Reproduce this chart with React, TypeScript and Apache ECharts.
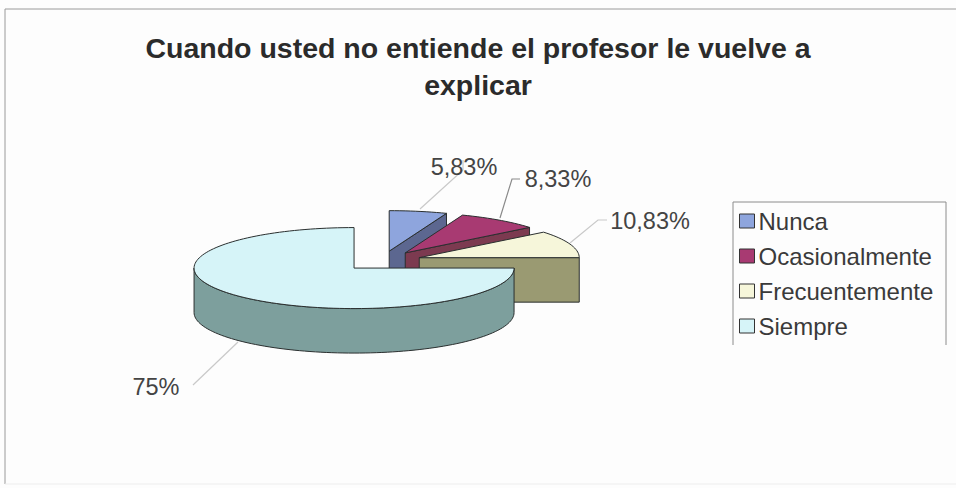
import React, { useEffect, useRef } from "react";
import * as echarts from "echarts";

const categories = ["Nunca", "Ocasionalmente", "Frecuentemente", "Siempre"];
const percentages = [5.83, 8.33, 10.83, 75];
const topColors = ["#8ea5dd", "#a83a72", "#f6f6da", "#d6f4f8"];
const sideColors = ["#5c6790", "#7c3a50", "#9a9a72", "#7d9f9d"];
const labelAnchors = [[464, 167], [558, 179], [650, 221], [156, 387]];
const leaderLines = [
  [[463, 160], [463, 170], [420, 209]],
  [[520, 179], [512, 179], [500, 218]],
  [[607, 220], [598, 220], [570, 243]],
  [[193, 385], [238, 342]],
];

// Projected pie: tilted ellipse, slices pushed out along their middle angle.
const CX = 382;
const CY = 261;
const RX = 160;
const RY = 40.5;
const DEPTH = 44.5;
const EXPLODE = 0.247;
const EDGE = "#2a2f2f";
const FONT = '"Liberation Sans", Arial, sans-serif';
const TOTAL = percentages.reduce((a, b) => a + b, 0);

const rim = (ox: number, oy: number, deg: number, dy = 0) => {
  const a = (deg * Math.PI) / 180;
  return [ox + RX * Math.sin(a), oy - RY * Math.cos(a) + dy];
};

const arcPoints = (ox: number, oy: number, from: number, to: number, dy = 0) => {
  const pts: number[][] = [];
  const steps = Math.max(2, Math.ceil(Math.abs(to - from) / 2));
  for (let i = 0; i <= steps; i++) pts.push(rim(ox, oy, from + ((to - from) * i) / steps, dy));
  return pts;
};

const makeRenderItem = (index: number) => (_params: any, api: any) => {
  const value = api.value(0);
  const before = percentages.slice(0, index).reduce((a, b) => a + b, 0);
  const start = (before / TOTAL) * 360;
  const end = start + (value / TOTAL) * 360;
  const mid = ((start + end) / 2) * (Math.PI / 180);
  const ox = CX + EXPLODE * RX * Math.sin(mid);
  const oy = CY - EXPLODE * RY * Math.cos(mid);
  const faceStyle = { fill: sideColors[index], stroke: EDGE, lineWidth: 1 };
  const children: any[] = [];

  // Cut face on the clockwise end of the slice, when it faces the viewer.
  if (end <= 180) {
    const r0 = rim(ox, oy, end);
    children.push({
      type: "polygon",
      shape: { points: [[ox, oy], r0, [r0[0], r0[1] + DEPTH], [ox, oy + DEPTH]] },
      style: faceStyle,
    });
  }
  // Outer wall, only where the rim is on the near half of the ellipse.
  const wallFrom = Math.max(start, 90);
  const wallTo = Math.min(end, 270);
  if (wallTo > wallFrom) {
    const upper = arcPoints(ox, oy, wallFrom, wallTo);
    const lower = arcPoints(ox, oy, wallFrom, wallTo, DEPTH).reverse();
    children.push({
      type: "polygon",
      shape: { points: [...upper, ...lower] },
      style: faceStyle,
    });
  }
  // Top face.
  children.push({
    type: "polygon",
    shape: { points: [[ox, oy], ...arcPoints(ox, oy, start, end)] },
    style: { fill: topColors[index], stroke: EDGE, lineWidth: 1 },
  });
  // Leader line and value label.
  children.push({
    type: "polyline",
    shape: { points: leaderLines[index] },
    style: { fill: "none", stroke: index === 1 ? "#8a8a8a" : "#c9c9c9", lineWidth: 1.2 },
  });
  children.push({
    type: "text",
    x: labelAnchors[index][0],
    y: labelAnchors[index][1],
    style: {
      text: `${String(value).replace(".", ",")}%`,
      fill: "#444",
      font: `23.5px ${FONT}`,
      align: "center",
      verticalAlign: "middle",
    },
  });
  return { type: "group", children };
};

export default function App() {
  const ref = useRef<HTMLDivElement>(null);
  useEffect(() => {
    const chart = echarts.init(ref.current!, null, { renderer: "svg" });
    chart.setOption({
      animation: false,
      backgroundColor: "#fdfdfd",
      title: {
        text: "Cuando usted no entiende el profesor le vuelve a\nexplicar",
        left: 478,
        top: 29,
        padding: 0,
        textAlign: "center",
        textStyle: {
          fontFamily: FONT,
          fontSize: 28.5,
          fontWeight: "bold",
          color: "#2b2b2b",
          lineHeight: 37,
        },
      },
      legend: {
        orient: "vertical",
        left: 739,
        top: 209,
        itemWidth: 15,
        itemHeight: 14,
        itemGap: 11,
        icon: "rect",
        padding: 0,
        data: categories,
        itemStyle: { borderColor: "#333", borderWidth: 1 },
        textStyle: {
          fontFamily: FONT,
          fontSize: 24,
          color: "#3a3a3a",
          padding: [0, 0, 0, -1],
        },
      },
      graphic: [
        {
          type: "polyline",
          silent: true,
          shape: { points: [[5, 484], [5, 9], [956, 9]] },
          style: { fill: "none", stroke: "#9a9a9a", lineWidth: 1 },
        },
        {
          type: "line",
          silent: true,
          shape: { x1: 5, y1: 484, x2: 956, y2: 484 },
          style: { stroke: "#ededed", lineWidth: 1 },
        },
        {
          type: "polyline",
          silent: true,
          shape: { points: [[733, 345], [733, 202], [946, 202], [946, 345]] },
          style: { fill: "none", stroke: "#8c8c8c", lineWidth: 1 },
        },
      ],
      series: categories.map((name, i) => ({
        type: "custom",
        name,
        coordinateSystem: "none",
        itemStyle: { color: topColors[i] },
        renderItem: makeRenderItem(i),
        data: [[percentages[i]]],
      })),
    });
    return () => chart.dispose();
  }, []);
  return <div ref={ref} style={{ width: 956, height: 488, position: "fixed", left: 0, top: 0 }} />;
}
